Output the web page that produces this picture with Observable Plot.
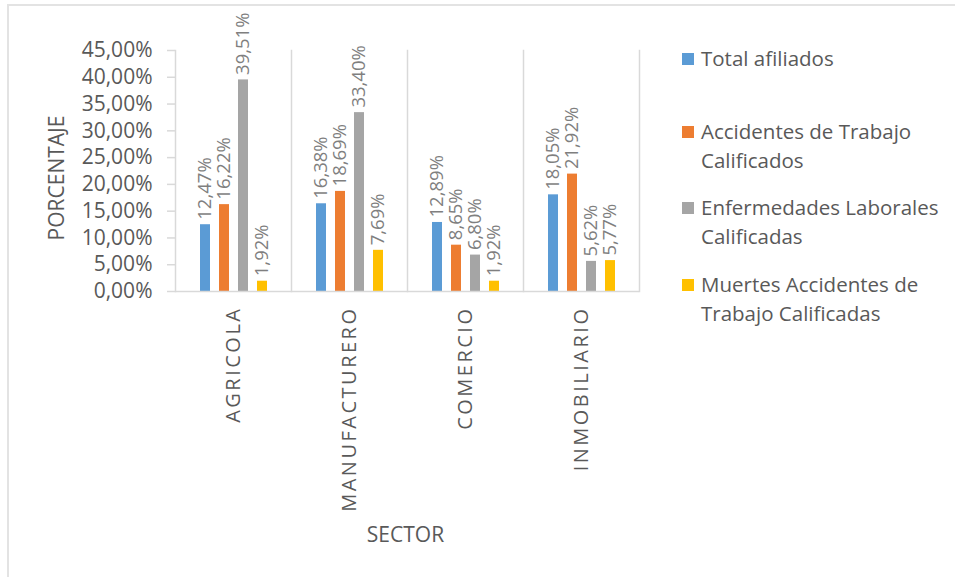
<!DOCTYPE html>
<html>
<head>
<meta charset="utf-8">
<script src="https://cdn.jsdelivr.net/npm/d3@7"></script>
<script src="https://cdn.jsdelivr.net/npm/@observablehq/plot@0.6"></script>
<style>
  html, body { margin: 0; padding: 0; background: #fff; }
  #wrap { position: relative; width: 955px; height: 577px; overflow: hidden; font-family: "Open Sans", sans-serif; }
  #border { position: absolute; left: 7px; top: 4px; width: 1000px; height: 700px; border-top: 2px solid #e3e3e3; border-left: 2px solid #e3e3e3; }
  #chart { position: absolute; left: 0; top: 0; }
  #chart g[aria-label="fx-axis tick label"] text { letter-spacing: 2.5px; }
  .title { position: absolute; color: #595959; font-size: 21px; white-space: nowrap; }
  #ytitle { left: 55.5px; top: 178px; transform: translate(-50%, -50%) rotate(-90deg); }
  #xtitle { left: 405.5px; top: 534px; transform: translate(-50%, -50%); }
  #legend { position: absolute; left: 682px; top: 0; color: #595959; font-size: 20.5px; line-height: 29px; }
  .item { position: absolute; left: 0; display: flex; align-items: flex-start; white-space: nowrap; }
  .sw { width: 12px; height: 12px; margin-top: 9px; margin-right: 7px; flex: none; }
</style>
</head>
<body>
<div id="wrap">
  <div id="border"></div>
  <div id="chart"></div>
  <div id="ytitle" class="title">PORCENTAJE</div>
  <div id="xtitle" class="title">SECTOR</div>
  <div id="legend"></div>
</div>
<script>
const sectors = ["AGRICOLA", "MANUFACTURERO", "COMERCIO", "INMOBILIARIO"];
const series = ["Total afiliados", "Accidentes de Trabajo Calificados", "Enfermedades Laborales Calificadas", "Muertes Accidentes de Trabajo Calificadas"];
const legendLabels = [["Total afiliados"], ["Accidentes de Trabajo", "Calificados"], ["Enfermedades Laborales", "Calificadas"], ["Muertes Accidentes de", "Trabajo Calificadas"]];
const totalAfiliados = [12.47, 16.38, 12.89, 18.05];
const accidentesTrabajo = [16.22, 18.69, 8.65, 21.92];
const enfermedadesLaborales = [39.51, 33.40, 6.80, 5.62];
const muertesAccidentes = [1.92, 7.69, 1.92, 5.77];
const yTicks = [0, 5, 10, 15, 20, 25, 30, 35, 40, 45];
const colors = ["#5B9BD5", "#ED7D31", "#A5A5A5", "#FFC000"];

const valuesBySeries = [totalAfiliados, accidentesTrabajo, enfermedadesLaborales, muertesAccidentes];
const data = [];
sectors.forEach((s, i) => {
  series.forEach((k, j) => data.push({sector: s, series: k, value: valuesBySeries[j][i]}));
});
const fmt = v => v.toFixed(2).replace(".", ",") + "%";
const grid = "#d9d9d9";

const chart = Plot.plot({
  width: 650,
  height: 560,
  marginLeft: 173,
  marginRight: 10,
  marginTop: 50,
  marginBottom: 269,
  style: {fontFamily: "Open Sans", background: "transparent", color: "#595959"},
  fx: {domain: sectors, padding: 0, label: null},
  x: {domain: series, axis: null, paddingInner: 0.5, paddingOuter: 0.25, insetLeft: 19, insetRight: 18},
  y: {domain: [0, 45], label: null},
  color: {domain: series, range: colors},
  marks: [
    Plot.frame({anchor: "left", stroke: grid, strokeWidth: 1.5, strokeOpacity: 1}),
    Plot.frame({anchor: "right", stroke: grid, strokeWidth: 1.5, strokeOpacity: 1, fx: ["INMOBILIARIO"]}),
    Plot.axisY({ticks: yTicks, tickFormat: fmt, tickSize: 8, tickPadding: 15, fontSize: 21, stroke: grid, strokeWidth: 1.5, strokeOpacity: 1, fill: "#595959", label: null}),
    Plot.axisFx({anchor: "bottom", tickRotate: -90, tickSize: 0, tickPadding: 15, fontSize: 20, fill: "#595959", label: null}),
    Plot.barY(data, {fx: "sector", x: "series", y: "value", fill: "series"}),
    Plot.ruleY([0], {stroke: grid, strokeWidth: 1.5}),
    Plot.text(data, {fx: "sector", x: "series", y: "value", text: d => fmt(d.value), rotate: -90, textAnchor: "start", dy: -5, fontSize: 18.5, fill: "#7f7f7f"})
  ]
});
document.getElementById("chart").appendChild(chart);

const legend = document.getElementById("legend");
const tops = [44, 117, 193, 270];
series.forEach((k, i) => {
  const item = document.createElement("div");
  item.className = "item";
  item.style.top = tops[i] + "px";
  const sw = document.createElement("div");
  sw.className = "sw";
  sw.style.background = colors[i];
  const txt = document.createElement("div");
  txt.innerHTML = legendLabels[i].join("<br>");
  item.appendChild(sw);
  item.appendChild(txt);
  legend.appendChild(item);
});
</script>
</body>
</html>
